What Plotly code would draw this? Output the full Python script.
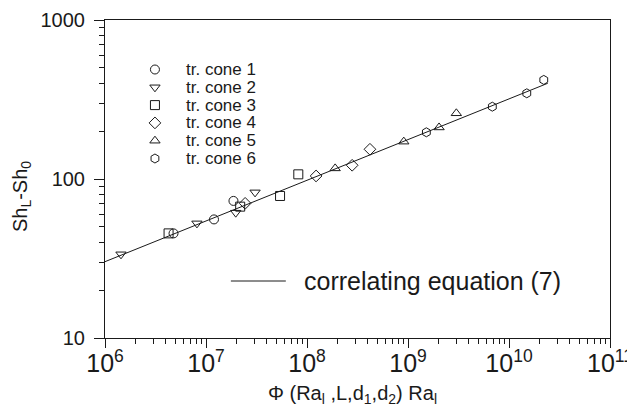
import plotly.graph_objects as go

# values (log-log)
cone1_x = [4.77e6, 1.2e7, 1.87e7]
cone1_y = [45.5, 55.7, 72.8]
cone2_x = [1.44e6, 8.13e6, 1.97e7, 3.06e7]
cone2_y = [33.6, 52.6, 61.4, 82.4]
cone3_x = [4.26e6, 2.18e7, 5.41e7, 8.2e7]
cone3_y = [45.5, 67.0, 78.2, 107]
cone4_x = [2.44e7, 1.23e8, 2.8e8, 4.2e8]
cone4_y = [70.3, 104.5, 122, 153.8]
cone5_x = [1.9e8, 9.08e8, 2.03e9, 3.01e9]
cone5_y = [116.6, 171.8, 211, 259]
cone6_x = [1.52e9, 6.84e9, 1.5e10, 2.21e10]
cone6_y = [196.7, 285, 346, 420]

# correlating equation (7), end points of the drawn line
corr_x = [1e6, 2.42e10]
corr_y = [30.2, 400]

y_ticks = [10, 100, 1000]

series = [
    ("tr. cone 1", cone1_x, cone1_y, "circle-open"),
    ("tr. cone 2", cone2_x, cone2_y, "triangle-down-open"),
    ("tr. cone 3", cone3_x, cone3_y, "square-open"),
    ("tr. cone 4", cone4_x, cone4_y, "diamond-open"),
    ("tr. cone 5", cone5_x, cone5_y, "triangle-up-open"),
    ("tr. cone 6", cone6_x, cone6_y, "hexagon-open"),
]

FONT = "Liberation Sans, Arial, sans-serif"
INK = "#1a1a1a"

# plot box in window pixels (left, right, top, bottom); the page body has an 8px margin
L, R, T, B = 105, 610.5, 20, 338
WIN_W, WIN_H, BODY = 635, 409, 8
W, H = WIN_W - BODY, WIN_H - BODY


def px_x(p):
    return (p - L) / (R - L)


def px_y(p):
    return (B - p) / (B - T)


fig = go.Figure()

fig.add_trace(go.Scatter(x=corr_x, y=corr_y, mode="lines",
                         line=dict(color=INK, width=1),
                         name="correlating equation (7)", showlegend=False))

for name, xs, ys, sym in series:
    fig.add_trace(go.Scatter(x=xs, y=ys, mode="markers", name=name, showlegend=False,
                             marker=dict(symbol=sym, size=9, color=INK,
                                         line=dict(width=1, color=INK))))

# hand-made legend: the plotly legend can't get the tight row spacing
key_x, key_text_x, key_y0, key_dy = 155, 184, 69.5, 17.8
for i, (name, xs, ys, sym) in enumerate(series):
    ky = key_y0 + i * key_dy
    fig.add_trace(go.Scatter(x=[key_x], y=[ky], xaxis="x2", yaxis="y2",
                             mode="markers", showlegend=False, hoverinfo="skip",
                             marker=dict(symbol=sym, size=9, color=INK,
                                         line=dict(width=1, color=INK))))
    fig.add_annotation(text=name, xref="x2", yref="y2", x=key_text_x, y=ky,
                       xanchor="left", yanchor="middle", showarrow=False,
                       font=dict(size=17, color=INK, family=FONT))

fig.add_shape(type="line", xref="x2", yref="y2", x0=231, x1=286, y0=281, y1=281,
              line=dict(color=INK, width=1))
fig.add_annotation(text="correlating equation (7)", xref="x2", yref="y2",
                   x=302, y=281, xanchor="left", yanchor="middle", showarrow=False,
                   font=dict(size=25, color=INK, family=FONT))

# axis titles
fig.add_annotation(text="\u03a6 (Ra<sub>l</sub> ,L,d<sub>1</sub>,d<sub>2</sub>) Ra<sub>l</sub>",
                   xref="paper", yref="paper", x=px_x(353), y=px_y(394),
                   xanchor="center", yanchor="middle", showarrow=False,
                   font=dict(size=20, color=INK, family=FONT))
fig.add_annotation(text="Sh<sub>L</sub>-Sh<sub>0</sub>", textangle=-90,
                   xref="paper", yref="paper", x=px_x(21), y=px_y(197),
                   xanchor="center", yanchor="middle", showarrow=False,
                   font=dict(size=20, color=INK, family=FONT))

fig.update_xaxes(type="log", range=[6, 11], dtick=1, exponentformat="power",
                 showline=True, mirror=True, linecolor=INK, linewidth=1,
                 ticks="outside", ticklen=9, tickcolor=INK, ticklabelstandoff=-5,
                 minor=dict(ticks="outside", ticklen=5, tickcolor=INK,
                            dtick="D1", showgrid=False),
                 showgrid=False, zeroline=False, automargin=False,
                 tickfont=dict(size=20, color=INK, family=FONT))

fig.update_yaxes(type="log", range=[1, 3], tickvals=y_ticks,
                 ticktext=[str(v) for v in y_ticks],
                 showline=True, mirror=True, linecolor=INK, linewidth=1,
                 ticks="outside", ticklen=10, tickcolor=INK, ticklabelstandoff=5,
                 minor=dict(ticks="outside", ticklen=5, tickcolor=INK,
                            dtick="D1", showgrid=False),
                 showgrid=False, zeroline=False, automargin=False,
                 tickfont=dict(size=20, color=INK, family=FONT))

fig.update_layout(
    width=W, height=H,
    margin=dict(l=L - BODY, r=WIN_W - R, t=T - BODY, b=WIN_H - B),
    plot_bgcolor="white", paper_bgcolor="white",
    font=dict(family=FONT, color=INK),
    showlegend=False,
    # pixel-unit overlay axes for the legend keys
    xaxis2=dict(overlaying="x", anchor="y2", range=[L, R], visible=False),
    yaxis2=dict(overlaying="y", anchor="x2", range=[B, T], visible=False),
)

fig.write_html("out.html")
